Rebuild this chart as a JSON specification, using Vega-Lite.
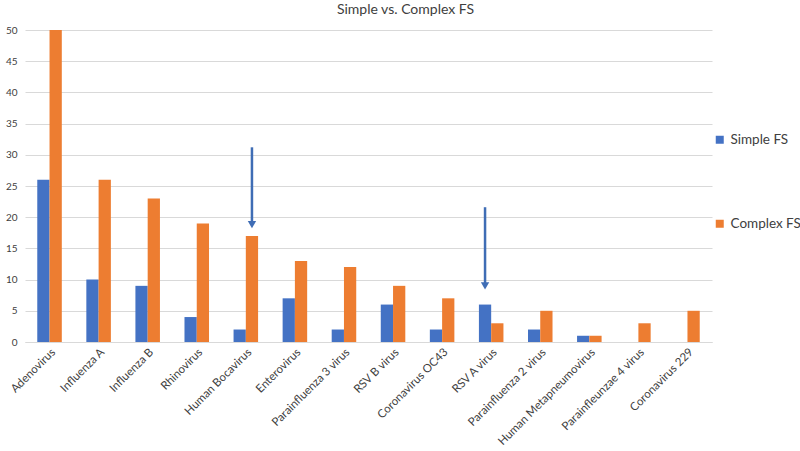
{
  "$schema": "https://vega.github.io/schema/vega-lite/v6.json",
  "width": 687,
  "height": 312,
  "autosize": {"type": "none"},
  "padding": {"left": 25, "top": 30, "right": 88, "bottom": 109},
  "background": "white",
  "config": {
    "font": "Lato",
    "view": {"stroke": null},
    "axisY": {
      "title": null,
      "values": [0, 5, 10, 15, 20, 25, 30, 35, 40, 45, 50],
      "labelFontSize": 10,
      "labelColor": "#404040",
      "domain": false,
      "ticks": false,
      "labelPadding": 8,
      "gridColor": "#d9d9d9",
      "gridWidth": 1
    }
  },
  "title": {
    "text": "Simple vs. Complex FS",
    "fontSize": 14,
    "fontWeight": "normal",
    "color": "#404040",
    "dx": 37,
    "offset": 8
  },
  "datasets": {
    "bars": [
      {"Virus": "Adenovirus", "Series": "Simple FS", "Count": 26},
      {"Virus": "Adenovirus", "Series": "Complex FS", "Count": 50},
      {"Virus": "Influenza A", "Series": "Simple FS", "Count": 10},
      {"Virus": "Influenza A", "Series": "Complex FS", "Count": 26},
      {"Virus": "Influenza B", "Series": "Simple FS", "Count": 9},
      {"Virus": "Influenza B", "Series": "Complex FS", "Count": 23},
      {"Virus": "Rhinovirus", "Series": "Simple FS", "Count": 4},
      {"Virus": "Rhinovirus", "Series": "Complex FS", "Count": 19},
      {"Virus": "Human Bocavirus", "Series": "Simple FS", "Count": 2},
      {"Virus": "Human Bocavirus", "Series": "Complex FS", "Count": 17},
      {"Virus": "Enterovirus", "Series": "Simple FS", "Count": 7},
      {"Virus": "Enterovirus", "Series": "Complex FS", "Count": 13},
      {"Virus": "Parainfluenza 3 virus", "Series": "Simple FS", "Count": 2},
      {"Virus": "Parainfluenza 3 virus", "Series": "Complex FS", "Count": 12},
      {"Virus": "RSV B virus", "Series": "Simple FS", "Count": 6},
      {"Virus": "RSV B virus", "Series": "Complex FS", "Count": 9},
      {"Virus": "Coronavirus OC43", "Series": "Simple FS", "Count": 2},
      {"Virus": "Coronavirus OC43", "Series": "Complex FS", "Count": 7},
      {"Virus": "RSV A virus", "Series": "Simple FS", "Count": 6},
      {"Virus": "RSV A virus", "Series": "Complex FS", "Count": 3},
      {"Virus": "Parainfluenza 2 virus", "Series": "Simple FS", "Count": 2},
      {"Virus": "Parainfluenza 2 virus", "Series": "Complex FS", "Count": 5},
      {"Virus": "Human Metapneumovirus", "Series": "Simple FS", "Count": 1},
      {"Virus": "Human Metapneumovirus", "Series": "Complex FS", "Count": 1},
      {"Virus": "Parainfleunzae 4 virus", "Series": "Simple FS", "Count": 0},
      {"Virus": "Parainfleunzae 4 virus", "Series": "Complex FS", "Count": 3},
      {"Virus": "Coronavirus 229", "Series": "Simple FS", "Count": 0},
      {"Virus": "Coronavirus 229", "Series": "Complex FS", "Count": 5}
    ],
    "arrows": [
      {"Virus": "Human Bocavirus", "Series": "Complex FS", "From": 31.2, "To": 18.9, "Tip": 18.8},
      {"Virus": "RSV A virus", "Series": "Simple FS", "From": 21.6, "To": 9.1, "Tip": 9.0}
    ]
  },
  "encoding": {
    "x": {
      "field": "Virus",
      "type": "nominal",
      "sort": null,
      "scale": {"paddingInner": 0.5, "paddingOuter": 0.25},
      "axis": {
        "title": null,
        "labelAngle": -45,
        "labelAlign": "right",
        "labelBaseline": "top",
        "labelFontSize": 11.5,
        "labelColor": "#404040",
        "labelPadding": 4,
        "ticks": false,
        "domainColor": "#d9d9d9",
        "labelLimit": 200
      }
    },
    "xOffset": {
      "field": "Series",
      "type": "nominal",
      "scale": {"domain": ["Simple FS", "Complex FS"]}
    }
  },
  "layer": [
    {
      "data": {"name": "bars"},
      "mark": {"type": "bar"},
      "encoding": {
        "y": {
          "field": "Count",
          "type": "quantitative",
          "title": null,
          "scale": {"domain": [0, 50], "nice": false}
        },
        "color": {
          "field": "Series",
          "type": "nominal",
          "scale": {"domain": ["Simple FS", "Complex FS"], "range": ["#4472C4", "#ED7D31"]},
          "legend": {
            "title": null,
            "orient": "none",
            "legendX": 688,
            "legendY": 103,
            "padding": 0,
            "symbolType": "square",
            "symbolSize": 64,
            "symbolStrokeWidth": 0,
            "labelFontSize": 13.5,
            "labelColor": "#404040",
            "rowPadding": 69,
            "labelOffset": 4
          }
        }
      }
    },
    {
      "data": {"name": "arrows"},
      "mark": {"type": "rule", "color": "#3F6DB5", "strokeWidth": 2.5},
      "encoding": {
        "y": {"field": "From", "type": "quantitative", "title": null},
        "y2": {"field": "To"}
      }
    },
    {
      "data": {"name": "arrows"},
      "mark": {"type": "point", "shape": "triangle-down", "filled": true, "color": "#3F6DB5", "size": 70, "opacity": 1},
      "encoding": {
        "y": {"field": "Tip", "type": "quantitative", "title": null}
      }
    }
  ]
}
